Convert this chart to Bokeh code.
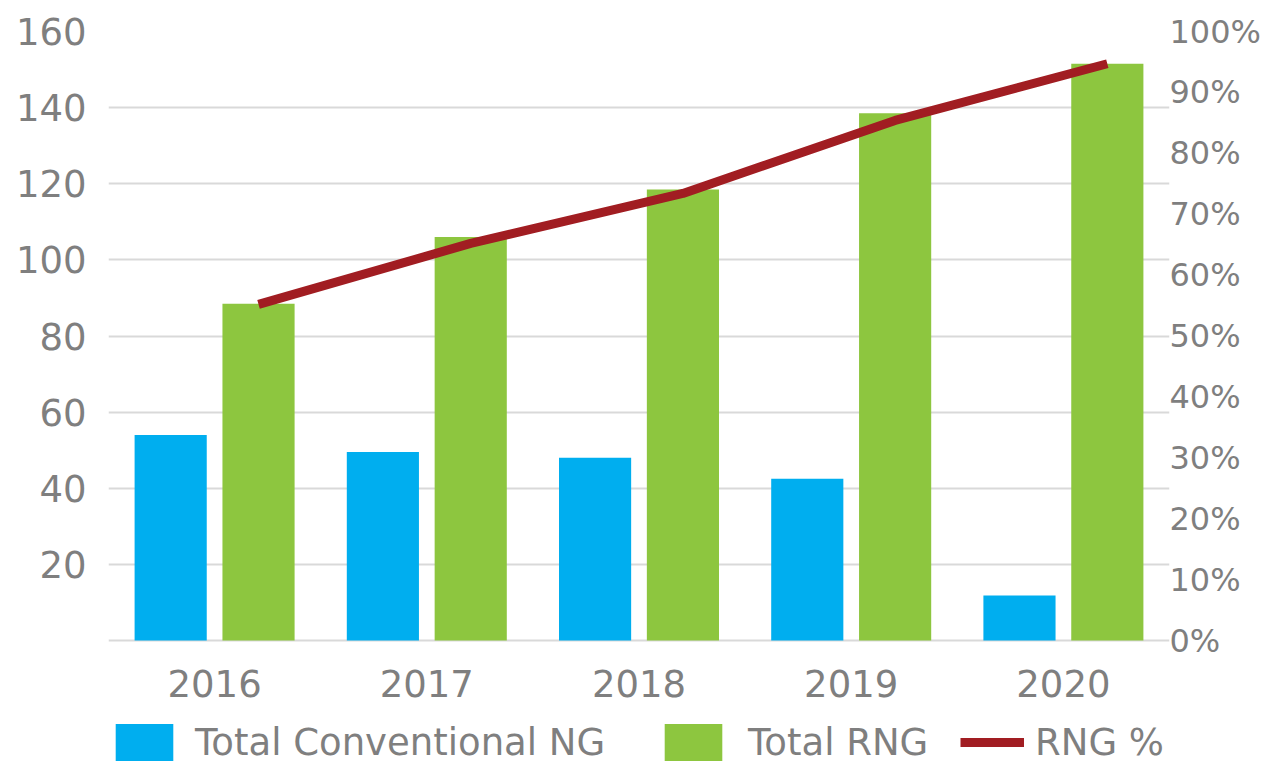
from bokeh.plotting import figure
from bokeh.models import (ColumnDataSource, FactorRange, Range1d, LinearAxis, FixedTicker,
                          NumeralTickFormatter, Legend, LegendItem)
from bokeh.core.properties import value
from bokeh.transform import dodge
from bokeh.embed import file_html
from bokeh.resources import INLINE

# ---- data ----
years = ["2016", "2017", "2018", "2019", "2020"]
conventional_ng = [54.0, 49.5, 48.0, 42.5, 11.8]
total_rng = [88.5, 106.0, 118.5, 138.5, 151.5]
rng_pct = [0.552, 0.652, 0.734, 0.854, 0.947]
left_ticks = [20, 40, 60, 80, 100, 120, 140, 160]
grid_ticks = [0, 20, 40, 60, 80, 100, 120, 140]
pct_ticks = [0.0, 0.1, 0.2, 0.3, 0.4, 0.5, 0.6, 0.7, 0.8, 0.9, 1.0]

BLUE = "#00AEEF"
GREEN = "#8DC63F"
RED = "#A11D22"
TEXT = "#7f7f7f"
FONT = "DejaVu Sans"

# layout: value axis 0..160 occupies the upper 609 px of a 734 px frame;
# the lower part of the frame holds the category labels and the legend
Y_MAX = 160
BELOW = 125 / 609            # fraction of the value span kept under zero
Y_MIN = -Y_MAX * BELOW
P_MIN = -1.0 * BELOW

src = ColumnDataSource(dict(year=years, conv=conventional_ng, rng=total_rng, pct=rng_pct))

p = figure(x_range=FactorRange(factors=years, range_padding=0.0),
           y_range=Range1d(Y_MIN, Y_MAX),
           width=1263, height=765,
           min_border_left=108, min_border_right=80,
           min_border_top=31, min_border_bottom=0,
           output_backend="svg", toolbar_location=None)
p.extra_y_ranges = {"pct": Range1d(P_MIN, 1)}
p.outline_line_color = None
p.background_fill_color = "white"
p.border_fill_color = "white"

bar_blue = p.vbar(x=dodge("year", -0.207, range=p.x_range), top="conv", bottom=0, width=0.34,
                  source=src, color=BLUE, line_color=None)
bar_green = p.vbar(x=dodge("year", 0.207, range=p.x_range), top="rng", bottom=0, width=0.34,
                   source=src, color=GREEN, line_color=None)
line_r = p.line(x=dodge("year", 0.207, range=p.x_range), y="pct", source=src,
                y_range_name="pct", line_color=RED, line_width=9, line_join="round")

# category labels (the x axis itself sits below the extended frame and is hidden)
p.xaxis.visible = False
p.text(x="year", y=-11.2, text="year", source=src, text_align="center",
       text_baseline="middle", text_font=value(FONT), text_font_size="37px",
       text_color=TEXT)

# grid
p.xgrid.visible = False
p.ygrid.ticker = FixedTicker(ticks=grid_ticks)
p.ygrid.grid_line_color = "#d9d9d9"
p.ygrid.grid_line_width = 2

# left axis
ya = p.yaxis[0]
ya.ticker = FixedTicker(ticks=left_ticks)
ya.axis_line_color = None
ya.major_tick_line_color = None
ya.minor_tick_line_color = None
ya.major_tick_out = 0
ya.minor_tick_out = 0
ya.major_label_standoff = 22
ya.major_label_text_font = FONT
ya.major_label_text_font_size = "37px"
ya.major_label_text_color = TEXT

# right axis
ra = LinearAxis(y_range_name="pct", ticker=FixedTicker(ticks=pct_ticks),
                formatter=NumeralTickFormatter(format="0%"))
ra.axis_line_color = None
ra.major_tick_line_color = None
ra.minor_tick_line_color = None
ra.major_tick_out = 0
ra.minor_tick_out = 0
ra.major_label_standoff = 0
ra.major_label_text_font = FONT
ra.major_label_text_font_size = "32px"
ra.major_label_text_color = TEXT
p.add_layout(ra, "right")

def make_legend(label, renderer, loc, gw, standoff):
    lg = Legend(items=[LegendItem(label=label, renderers=[renderer])],
                location=loc, orientation="horizontal",
                glyph_width=gw, glyph_height=46, label_standoff=standoff,
                padding=0, margin=0, spacing=0,
                border_line_color=None, background_fill_alpha=0,
                label_text_font=FONT, label_text_font_size="37px",
                label_text_color=TEXT)
    p.add_layout(lg, "center")

make_legend("Total Conventional NG", bar_blue, (0, 0), 72, 15)
make_legend("Total RNG", bar_green, (549, 0), 72, 19)
make_legend("RNG %", line_r, (852, 0), 64, 11)

open("out.html", "w").write(file_html(p, INLINE))
